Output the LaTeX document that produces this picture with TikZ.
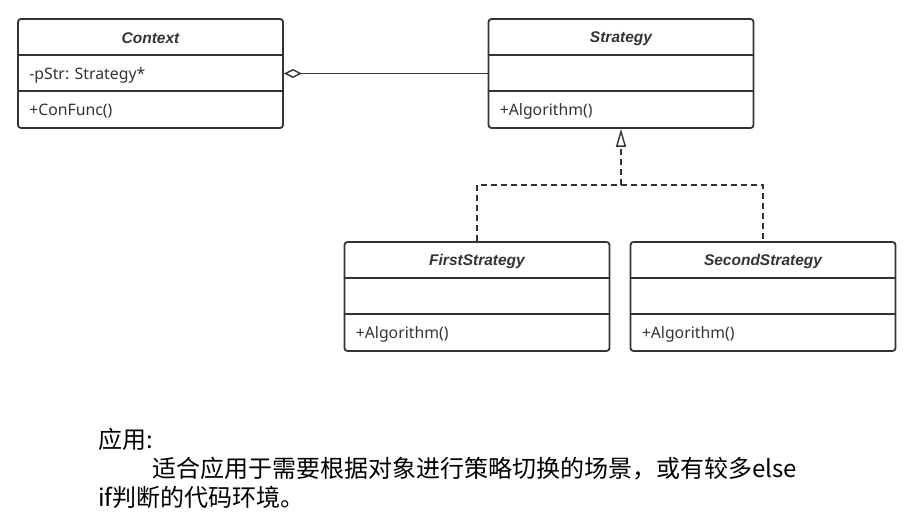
\documentclass[tikz,border=0pt]{standalone}
\usepackage{fontspec}
\setmainfont{Noto Sans}
\newfontfamily\titlefont{Liberation Sans}
\newfontfamily\cjk{Noto Sans CJK SC}
\usetikzlibrary{arrows.meta,positioning}
\definecolor{umlgray}{HTML}{333333}
\tikzset{
  classbox/.style={draw=umlgray,line width=1.8pt,rounded corners=3pt,
    minimum width=265pt,minimum height=109pt,inner sep=0pt},
  classtitle/.style={font=\titlefont\bfseries\itshape\fontsize{15.5}{18}\selectfont,text=umlgray,inner sep=0pt},
  classrow/.style={font=\fontsize{15.8}{18}\selectfont,text=umlgray,anchor=west,inner sep=0pt},
  divider/.style={draw=umlgray,line width=1.8pt},
  link/.style={draw=umlgray,line width=1.4pt},
}
\begin{document}
\begin{tikzpicture}[x=1pt,y=-1pt]
  \useasboundingbox (0,0) rectangle (921,532);
  % class boxes
  \foreach \n/\x/\y/\t/\a/\m in {
      ctx/150.5/73.5/Context/-pStr: Strategy*/+ConFunc(),
      strat/621/73.5/Strategy//+Algorithm(),
      first/477/296.5/FirstStrategy//+Algorithm(),
      second/763/296.5/SecondStrategy//+Algorithm()} {
    \node[classbox] (\n) at (\x,\y) {};
    \path[divider] ([yshift=-37pt]\n.north west) -- ([yshift=-37pt]\n.north east);
    \path[divider] ([yshift=-73pt]\n.north west) -- ([yshift=-73pt]\n.north east);
    \node[classtitle] (\n-title) at ([yshift=-20.5pt]\n.north) {\t};
    \node[classrow] (\n-attr) at ([xshift=12pt,yshift=-57pt]\n.north west) {\a};
    \node[classrow] (\n-op) at ([xshift=12pt,yshift=-93pt]\n.north west) {\m};
  }
  % aggregation
  \draw[link,-{Diamond[open,length=18pt,width=9pt,line width=1.4pt]}] (strat.west) -- (ctx.east);
  % realization
  \coordinate (join) at (621,185);
  \draw[link,dash pattern=on 6pt off 4pt] (first.north) |- (join) -| (second.north);
  \draw[link,dash pattern=on 6pt off 4pt,-{Triangle[open,length=18pt,width=10pt,line width=1.4pt]}] (join) -- (strat.south);
  % notes
  \begin{scope}[every node/.style={anchor=base west,inner sep=0pt,text=black,font=\cjk\fontsize{24}{29}\selectfont}]
    \node (use) at (98,448) {应用:};
    \node (line1) at (152,477) {适合应用于需要根据对象进行策略切换的场景，或有较多else};
    \node (line2) at (98,506) {if判断的代码环境。};
  \end{scope}
\end{tikzpicture}
\end{document}
